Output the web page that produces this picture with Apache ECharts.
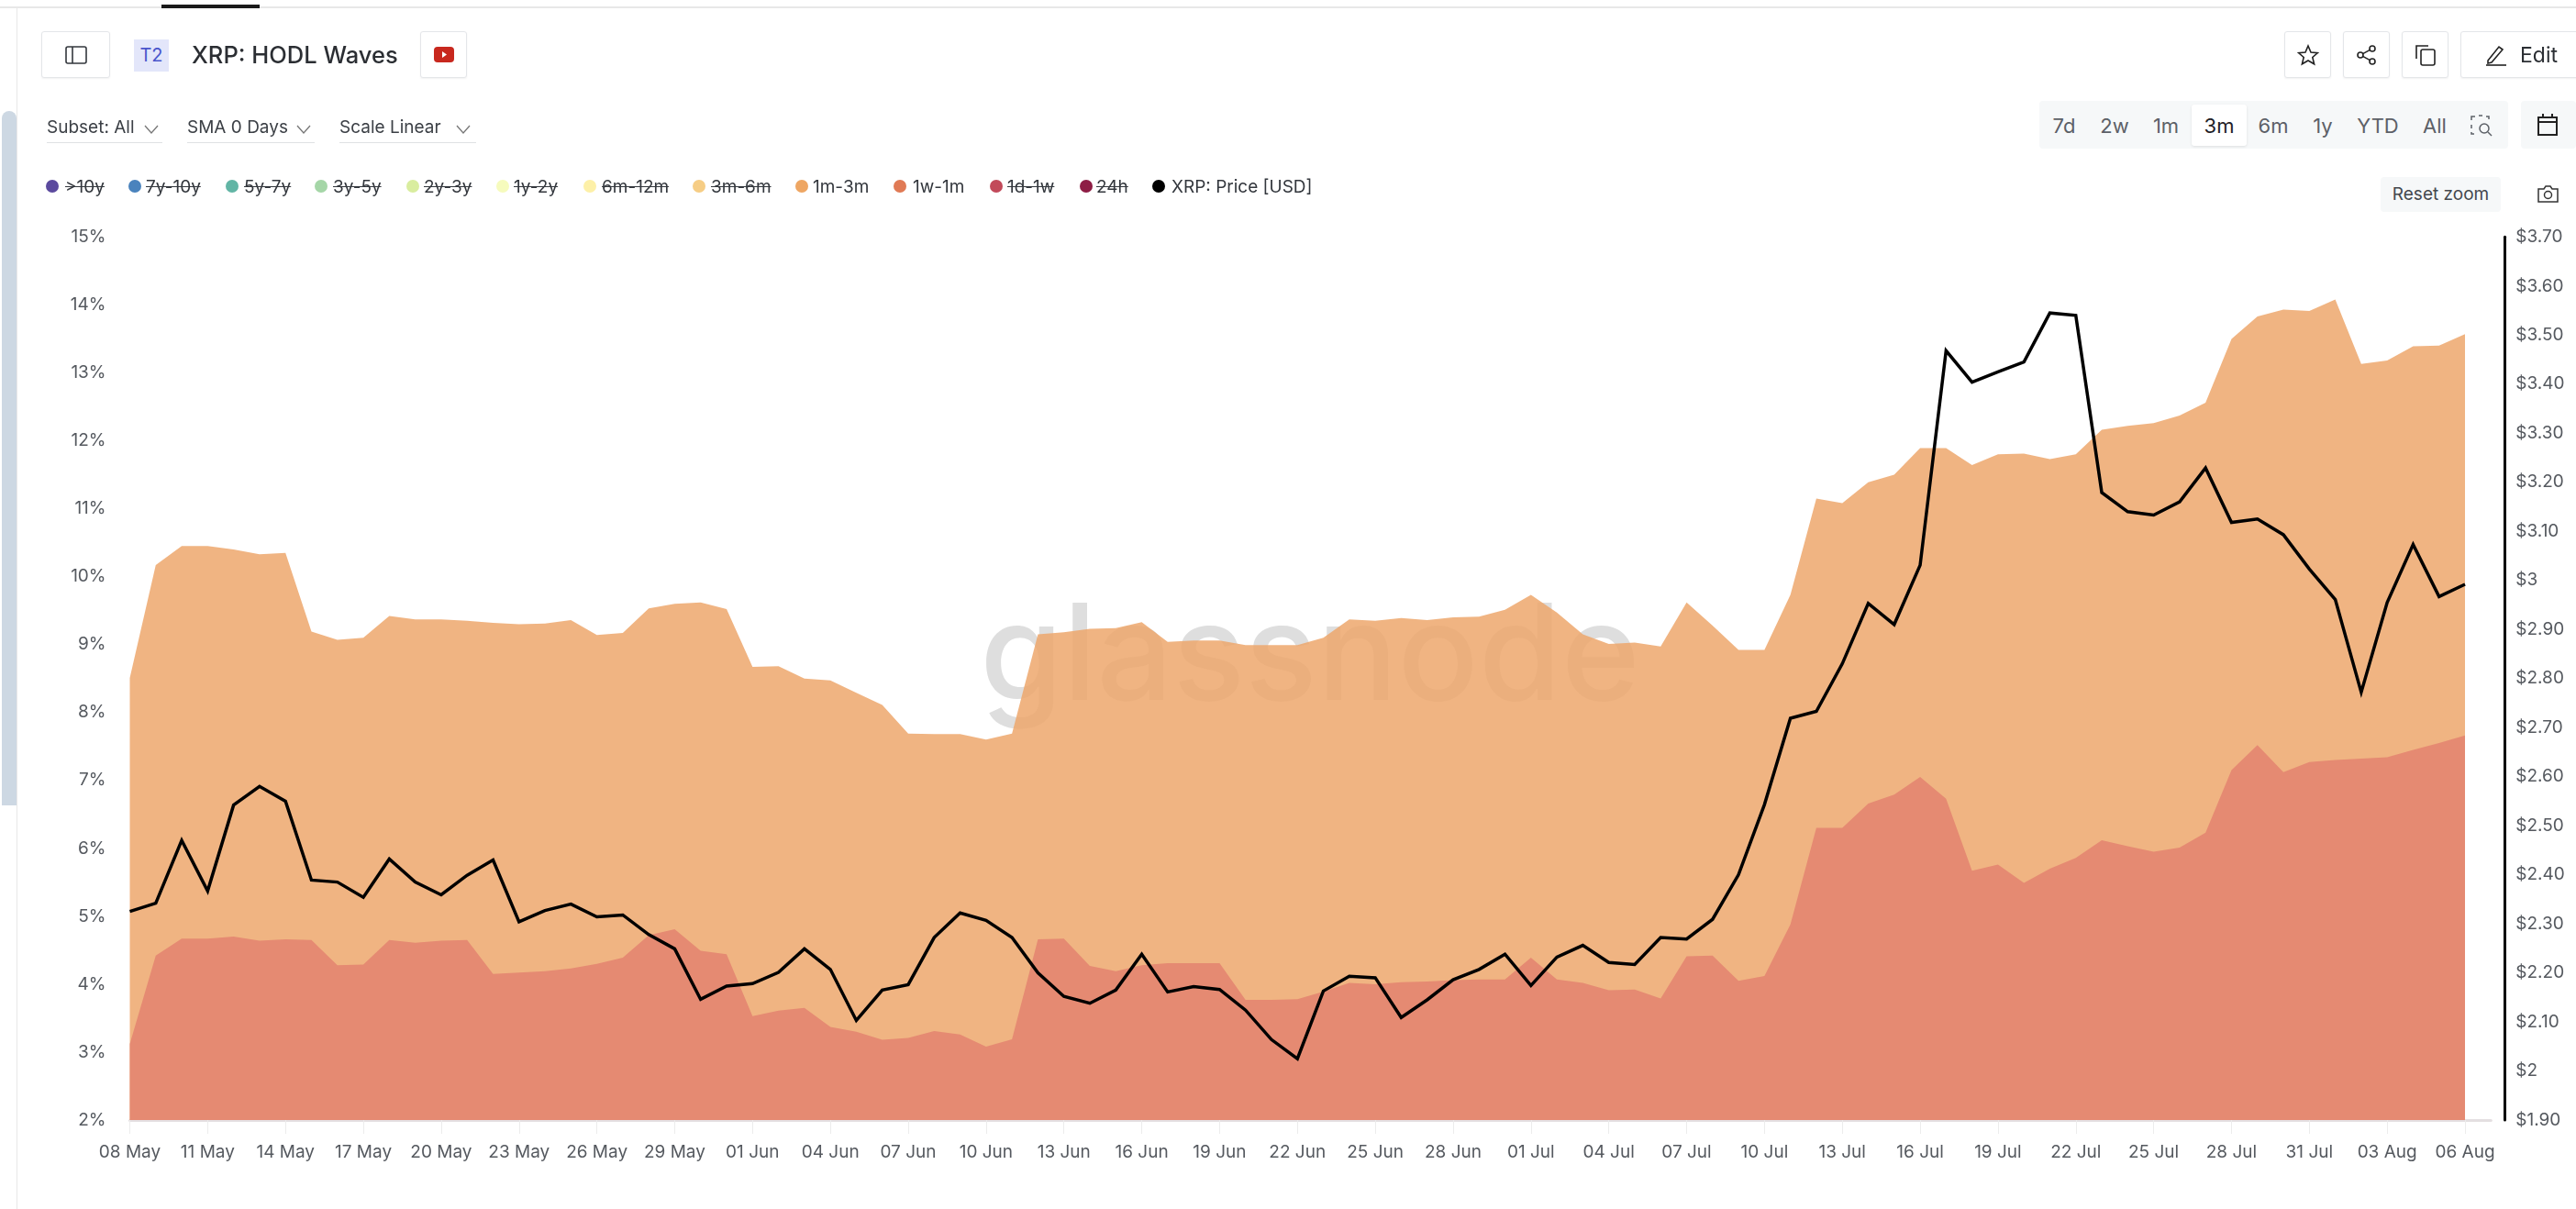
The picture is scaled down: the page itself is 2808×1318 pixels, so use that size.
<!DOCTYPE html>
<html>
<head>
<meta charset="utf-8">
<title>XRP: HODL Waves</title>
<script src="https://cdn.jsdelivr.net/npm/echarts@6/dist/echarts.min.js"></script>
<style>
    html, body { margin: 0; padding: 0; background: #fff; }
    body { width: 2808px; height: 1318px; position: relative; overflow: hidden; font-family: Inter, "Noto Sans", sans-serif; color: #33373d; }
    #chart { position: absolute; left: 0; top: 0; width: 2808px; height: 1318px; }
    .abs { position: absolute; box-sizing: border-box; }
    .btn { border: 1px solid #e4e6e9; border-radius: 3px; background: #fff; height: 51px; top: 34px; box-shadow: 0 1px 2px rgba(0, 0, 0, .06); display: flex; align-items: center; justify-content: center; }
    .drop { top: 125px; height: 31px; font-size: 19px; line-height: 28px; border-bottom: 1px solid #dfe1e4; color: #3c4046; }
    .drop svg { position: absolute; right: 2px; top: 8px; }
    .range { top: 124px; font-size: 22px; line-height: 26px; color: #5c6067; transform: translateX(-50%); }
    .dot { width: 14px; height: 14px; border-radius: 50%; top: 196px; }
    .leg { top: 192px; font-size: 19px; line-height: 24px; color: #33373d; white-space: nowrap; }
    .off { text-decoration: line-through; }
</style>
</head>
<body>
<div id="chart"></div>

<div class="abs" style="left:0;top:7px;width:2808px;height:2px;background:#e8e8e8"></div>
<div class="abs" style="left:176px;top:5px;width:107px;height:4px;background:#1a1a1a"></div>
<div class="abs" style="left:18px;top:9px;width:1px;height:1309px;background:#e8e8e8"></div>
<div class="abs" style="left:2px;top:121px;width:16px;height:757px;border-radius:8px 8px 0 0;background:#cdd8e3"></div>

<div class="abs btn" style="left:45px;width:75px">
    <svg width="24" height="20" fill="none" stroke="#33373d" stroke-width="1.6"><rect x="1" y="1" width="22" height="18" rx="2"/><line x1="8" y1="1" x2="8" y2="19"/></svg>
</div>
<div class="abs" style="left:146px;top:43px;width:38px;height:35px;background:#e3e6fa;color:#4a55cc;font-size:20px;line-height:35px;text-align:center">T2</div>
<div class="abs" style="left:209px;top:42px;font-size:25.5px;line-height:36px;font-weight:500;color:#2b2e33;white-space:nowrap">XRP: HODL Waves</div>
<div class="abs btn" style="left:458px;width:51px">
    <svg width="22" height="17"><rect width="22" height="17" rx="4" fill="#c8281e"/><path d="M9 5l5 3.5-5 3.5z" fill="#fff"/></svg>
</div>

<div class="abs btn" style="left:2490px;width:51px">
    <svg width="24" height="24" fill="none" stroke="#222" stroke-width="1.6"><path d="M12 2l3 7 7.5.6-5.7 4.9 1.8 7.3L12 18l-6.6 3.8 1.8-7.3L1.5 9.6 9 9z"/></svg>
</div>
<div class="abs btn" style="left:2554px;width:51px">
    <svg width="24" height="24" fill="none" stroke="#222" stroke-width="1.6"><circle cx="18" cy="5" r="3"/><circle cx="5" cy="12" r="3"/><circle cx="18" cy="19" r="3"/><path d="M7.6 10.6l7.8-4.2M7.6 13.4l7.8 4.2"/></svg>
</div>
<div class="abs btn" style="left:2618px;width:51px">
    <svg width="24" height="24" fill="none" stroke="#222" stroke-width="1.6"><rect x="7" y="6" width="15" height="17" rx="2"/><path d="M2 16V2h13"/></svg>
</div>
<div class="abs btn" style="left:2682px;width:140px;justify-content:flex-start;padding-left:26px;font-size:23px;color:#2b2e33">
    <svg width="24" height="24" fill="none" stroke="#222" stroke-width="1.6" style="margin-right:14px"><path d="M3 18L15 3l4 3L7 20l-4 1z"/><line x1="1" y1="23" x2="23" y2="23"/></svg>Edit
</div>

<div class="abs drop" style="left:51px;width:126px">Subset: All<svg width="16" height="10" fill="none" stroke="#777" stroke-width="1.3" style="right:4px;top:11px"><path d="M1 1l7 8 7-8"/></svg></div>
<div class="abs drop" style="left:204px;width:139px">SMA 0 Days<svg width="16" height="10" fill="none" stroke="#777" stroke-width="1.3" style="top:11px;right:4px"><path d="M1 1l7 8 7-8"/></svg></div>
<div class="abs drop" style="left:370px;width:149px">Scale Linear<svg width="16" height="10" fill="none" stroke="#777" stroke-width="1.3" style="top:11px;right:6px"><path d="M1 1l7 8 7-8"/></svg></div>

<div class="abs" style="left:2223px;top:110px;width:511px;height:52px;background:#f6f8f9;border-radius:4px"></div>
<div class="abs" style="left:2389px;top:114px;width:60px;height:45px;background:#fff;border-radius:3px;box-shadow:0 1px 3px rgba(0,0,0,.1)"></div>
<div class="abs range" style="left:2250px">7d</div>
<div class="abs range" style="left:2305px">2w</div>
<div class="abs range" style="left:2361px">1m</div>
<div class="abs range" style="left:2419px;color:#1f2227">3m</div>
<div class="abs range" style="left:2478px">6m</div>
<div class="abs range" style="left:2532px">1y</div>
<div class="abs range" style="left:2592px">YTD</div>
<div class="abs range" style="left:2654px">All</div>
<svg class="abs" style="left:2693px;top:125px" width="24" height="24" fill="none" stroke="#5c6067" stroke-width="1.5"><path d="M1 6V2h4M9 1h4M17 2h3v3M1 11v4M1 19v2h3"/><circle cx="15" cy="15" r="5"/><path d="M19 19l4 4"/></svg>
<div class="abs" style="left:2748px;top:110px;width:60px;height:52px;background:#f6f8f9;border-radius:4px"></div>
<svg class="abs" style="left:2765px;top:124px" width="24" height="24" fill="none" stroke="#222" stroke-width="2"><rect x="2" y="4" width="20" height="19"/><path d="M2 9h20M7 0v5M17 0v5"/></svg>

<div class="abs" style="left:2595px;top:193px;width:131px;height:38px;background:#f6f8f9;border-radius:4px;font-size:19px;line-height:38px;text-align:center;color:#44484e">Reset zoom</div>
<svg class="abs" style="left:2766px;top:202px" width="23" height="19" fill="none" stroke="#333" stroke-width="1.5"><path d="M1 4h6l2-3h5l2 3h6v14H1z"/><circle cx="11.5" cy="10.5" r="4"/></svg>

<script>
    const dateLabels = [
        '08 May', '09 May', '10 May', '11 May', '12 May', '13 May', '14 May', '15 May', '16 May', '17 May', '18 May', '19 May',
        '20 May', '21 May', '22 May', '23 May', '24 May', '25 May', '26 May', '27 May', '28 May', '29 May', '30 May', '31 May',
        '01 Jun', '02 Jun', '03 Jun', '04 Jun', '05 Jun', '06 Jun', '07 Jun', '08 Jun', '09 Jun', '10 Jun', '11 Jun', '12 Jun',
        '13 Jun', '14 Jun', '15 Jun', '16 Jun', '17 Jun', '18 Jun', '19 Jun', '20 Jun', '21 Jun', '22 Jun', '23 Jun', '24 Jun',
        '25 Jun', '26 Jun', '27 Jun', '28 Jun', '29 Jun', '30 Jun', '01 Jul', '02 Jul', '03 Jul', '04 Jul', '05 Jul', '06 Jul',
        '07 Jul', '08 Jul', '09 Jul', '10 Jul', '11 Jul', '12 Jul', '13 Jul', '14 Jul', '15 Jul', '16 Jul', '17 Jul', '18 Jul',
        '19 Jul', '20 Jul', '21 Jul', '22 Jul', '23 Jul', '24 Jul', '25 Jul', '26 Jul', '27 Jul', '28 Jul', '29 Jul', '30 Jul',
        '31 Jul', '01 Aug', '02 Aug', '03 Aug', '04 Aug', '05 Aug', '06 Aug',
        // 多留一格空位，x 轴线要画到最后一个点右边
        ''
    ];

    const band1m3m = [
        8.51, 10.17, 10.45, 10.45, 10.40, 10.33, 10.35, 9.19, 9.07, 9.10, 9.42, 9.37,
        9.37, 9.35, 9.32, 9.30, 9.31, 9.36, 9.14, 9.17, 9.53, 9.60, 9.62, 9.52,
        8.67, 8.68, 8.50, 8.47, 8.29, 8.11, 7.69, 7.68, 7.68, 7.60, 7.69, 9.15,
        9.18, 9.23, 9.24, 9.33, 9.04, 9.06, 9.06, 8.99, 8.99, 8.99, 9.10, 9.37,
        9.35, 9.39, 9.36, 9.40, 9.41, 9.51, 9.73, 9.47, 9.15, 9.01, 9.03, 8.97,
        9.62, 9.28, 8.92, 8.92, 9.73, 11.15, 11.08, 11.39, 11.50, 11.89, 11.89, 11.64,
        11.80, 11.81, 11.73, 11.80, 12.16, 12.22, 12.26, 12.37, 12.56, 13.50, 13.83, 13.93,
        13.91, 14.08, 13.13, 13.18, 13.39, 13.40, 13.57
    ];

    const band1w1m = [
        3.12, 4.42, 4.67, 4.67, 4.70, 4.64, 4.66, 4.65, 4.28, 4.29, 4.65, 4.61,
        4.64, 4.65, 4.15, 4.17, 4.19, 4.23, 4.30, 4.39, 4.72, 4.81, 4.49, 4.44,
        3.53, 3.61, 3.65, 3.37, 3.30, 3.18, 3.21, 3.31, 3.26, 3.08, 3.19, 4.66,
        4.67, 4.27, 4.19, 4.28, 4.31, 4.31, 4.31, 3.77, 3.77, 3.78, 3.89, 4.02,
        4.00, 4.03, 4.04, 4.06, 4.07, 4.07, 4.39, 4.07, 4.02, 3.91, 3.92, 3.79,
        4.41, 4.42, 4.05, 4.12, 4.88, 6.30, 6.30, 6.66, 6.79, 7.05, 6.73, 5.67,
        5.76, 5.49, 5.70, 5.86, 6.12, 6.03, 5.95, 6.01, 6.23, 7.15, 7.52, 7.12,
        7.27, 7.30, 7.32, 7.34, 7.45, 7.55, 7.66
    ];

    const xrpPrice = [
        2.325, 2.342, 2.470, 2.367, 2.542, 2.580, 2.550, 2.389, 2.385, 2.354, 2.432, 2.385,
        2.359, 2.399, 2.430, 2.304, 2.327, 2.340, 2.314, 2.318, 2.278, 2.249, 2.146, 2.173,
        2.178, 2.201, 2.249, 2.207, 2.103, 2.165, 2.176, 2.272, 2.322, 2.307, 2.272, 2.200,
        2.152, 2.138, 2.165, 2.238, 2.161, 2.172, 2.166, 2.124, 2.064, 2.025, 2.163, 2.193,
        2.190, 2.109, 2.145, 2.186, 2.207, 2.238, 2.174, 2.232, 2.256, 2.221, 2.217, 2.272,
        2.269, 2.309, 2.400, 2.543, 2.719, 2.733, 2.830, 2.953, 2.910, 3.031, 3.468, 3.404,
        3.425, 3.445, 3.545, 3.540, 3.179, 3.140, 3.133, 3.160, 3.229, 3.118, 3.125, 3.093,
        3.023, 2.961, 2.772, 2.955, 3.073, 2.967, 2.992
    ];

    const legendNames = ['>10y', '7y-10y', '5y-7y', '3y-5y', '2y-3y', '1y-2y', '6m-12m', '3m-6m', '1m-3m', '1w-1m', '1d-1w', '24h', 'XRP: Price [USD]'];
    const legendColors = ['#5b4a9e', '#4a83bd', '#62b5a5', '#a5d6a7', '#d9ed9f', '#f6fbbd', '#fdf0a8', '#f6cd85', '#eea663', '#e07a55', '#c24a5a', '#8e1d45', '#000000'];
    const legendHidden = [true, true, true, true, true, true, true, true, false, false, true, true, false];
    const legendDotX = [50, 140, 246, 343, 443, 541, 636, 755, 867, 974, 1079, 1177, 1256];
    const legendTextX = [71, 159, 266, 363, 462, 560, 656, 775, 886, 995, 1098, 1195, 1277];

    // 图例放在页面上，划线样式 ECharts 图例做不出来
    legendNames.forEach((name, i) => {
        let dot = document.createElement('div');
        dot.className = 'abs dot';
        dot.style.left = legendDotX[i] + 'px';
        dot.style.background = legendColors[i];
        document.body.appendChild(dot);
        let text = document.createElement('div');
        text.className = 'abs leg' + (legendHidden[i] ? ' off' : '');
        text.style.left = legendTextX[i] + 'px';
        text.textContent = name;
        document.body.appendChild(text);
    });

    const axisFont = 'Inter, "Noto Sans", sans-serif';
    const chart = echarts.init(document.getElementById('chart'), null, {renderer: 'canvas'});

    chart.setOption({
        animation: false,
        backgroundColor: '#fff',
        grid: {left: 141.5, right: 92.7, top: 258.3, bottom: 97},
        graphic: [{
            type: 'text',
            z: 0,
            style: {
                x: 1428,
                y: 792,
                text: 'glassnode',
                textAlign: 'center',
                textVerticalAlign: 'bottom',
                font: '500 146px ' + axisFont,
                fill: '#dedede'
            }
        }],
        xAxis: {
            type: 'category',
            boundaryGap: false,
            data: dateLabels,
            axisLine: {lineStyle: {color: '#e4dfe1', width: 3}},
            axisTick: {interval: 2, length: 15, lineStyle: {color: '#ececec', width: 1}},
            axisLabel: {interval: 2, margin: 26, color: '#55595f', fontSize: 19, fontFamily: axisFont},
            splitLine: {show: false}
        },
        yAxis: [
            {
                type: 'value',
                min: 2,
                max: 15,
                interval: 1,
                axisLine: {show: false},
                axisTick: {show: false},
                splitLine: {show: false},
                axisLabel: {formatter: '{value}%', margin: 26, color: '#55595f', fontSize: 19, fontFamily: axisFont}
            },
            {
                type: 'value',
                position: 'right',
                min: 1.9,
                max: 3.7,
                interval: 0.1,
                offset: 15,
                axisLine: {show: true, lineStyle: {color: '#000', width: 3}},
                axisTick: {show: false},
                splitLine: {show: false},
                axisLabel: {
                    margin: 12,
                    color: '#55595f',
                    fontSize: 19,
                    fontFamily: axisFont,
                    formatter: value => {
                        let whole = Math.round(value);
                        return Math.abs(value - whole) < 1e-6 ? '$' + whole : '$' + value.toFixed(2);
                    }
                }
            }
        ],
        series: [
            {
                name: '1m-3m',
                type: 'line',
                data: band1m3m,
                symbol: 'none',
                lineStyle: {width: 0},
                areaStyle: {color: '#eda76c', opacity: 0.85}
            },
            {
                name: '1w-1m',
                type: 'line',
                data: band1w1m,
                symbol: 'none',
                lineStyle: {width: 0},
                areaStyle: {color: '#e58a72', opacity: 1}
            },
            {
                name: 'XRP: Price [USD]',
                type: 'line',
                yAxisIndex: 1,
                data: xrpPrice,
                symbol: 'none',
                lineStyle: {color: '#000', width: 3.5, join: 'miter'}
            }
        ]
    });
</script>
</body>
</html>
